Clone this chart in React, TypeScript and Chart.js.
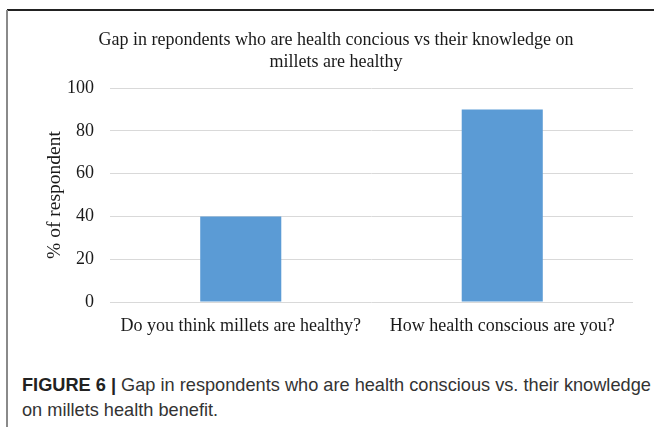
import React, { useEffect, useRef } from "react";
import { Chart, registerables } from "chart.js";

Chart.register(...registerables);

const categories = ["Do you think millets are healthy?", "How health conscious are you?"];
const values = [40, 90];
const titleLines = ["Gap in repondents who are health concious vs their knowledge on", "millets are healthy"];
const yAxisTitle = "% of respondent";
const captionBold = "FIGURE 6 |";
const captionText = " Gap in respondents who are health conscious vs. their knowledge on millets health benefit.";

const SERIF = "'Liberation Serif', 'Times New Roman', serif";

export default function App() {
  const ref = useRef<HTMLCanvasElement | null>(null);

  useEffect(() => {
    if (!ref.current) return;
    const chart = new Chart(ref.current, {
      type: "bar",
      data: {
        labels: categories,
        datasets: [
          {
            data: values,
            backgroundColor: "#5B9BD5",
            borderWidth: 0,
            categoryPercentage: 1,
            barPercentage: 0.31,
          },
        ],
      },
      options: {
        animation: false,
        responsive: false,
        maintainAspectRatio: false,
        layout: { padding: { left: 39, right: 21, top: 0, bottom: 8 } },
        plugins: {
          legend: { display: false },
          tooltip: { enabled: false },
          title: {
            display: true,
            text: titleLines,
            color: "#1a1a1a",
            font: { family: SERIF, size: 18, weight: "normal", lineHeight: 1.25 },
            padding: { top: 29, bottom: 14 },
          },
        },
        scales: {
          x: {
            grid: { display: false },
            border: { display: false },
            ticks: {
              color: "#1a1a1a",
              font: { family: SERIF, size: 18 },
              padding: 5,
              maxRotation: 0,
              autoSkip: false,
            },
            afterFit: (s: any) => {
              s.height = 40;
            },
          },
          y: {
            min: 0,
            max: 100,
            ticks: {
              stepSize: 20,
              color: "#1a1a1a",
              font: { family: SERIF, size: 18 },
              padding: 16,
            },
            grid: { color: "#d9d9d9", lineWidth: 1, drawTicks: false },
            border: { display: false },
            title: {
              display: true,
              text: yAxisTitle,
              color: "#1a1a1a",
              font: { family: SERIF, size: 19.5 },
              padding: { top: 4, bottom: 4 },
            },
            afterFit: (s: any) => {
              s.width = 71;
            },
          },
        },
      },
    });
    return () => chart.destroy();
  }, []);

  return (
    <div style={{ position: "absolute", left: 0, top: 0, width: 654, height: 427, background: "#fff", overflow: "hidden" }}>
      <canvas ref={ref} width={654} height={350} style={{ position: "absolute", left: 0, top: 0, width: 654, height: 350 }} />
      <div style={{ position: "absolute", left: 7, top: 9, width: 647, height: 2, background: "#222" }} />
      <div style={{ position: "absolute", left: 6, top: 10, width: 2, height: 417, background: "#8a8a8a" }} />
      <div
        style={{
          position: "absolute",
          left: 22,
          top: 373,
          width: 630,
          fontFamily: "'Liberation Sans', Arial, sans-serif",
          fontSize: 18.2,
          lineHeight: "25px",
          color: "#333",
        }}
      >
        <b style={{ color: "#222" }}>{captionBold}</b>
        {captionText}
      </div>
    </div>
  );
}
